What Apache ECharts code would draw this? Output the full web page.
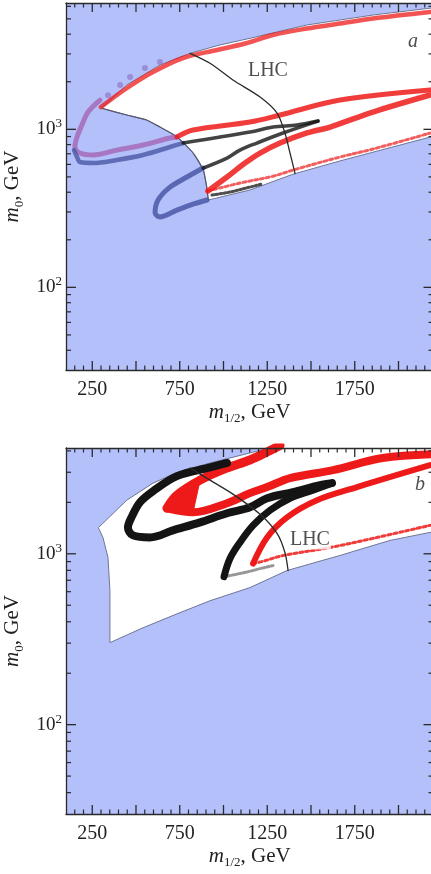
<!DOCTYPE html>
<html><head><meta charset="utf-8">
<script src="https://cdn.jsdelivr.net/npm/echarts@6/dist/echarts.min.js"></script>
<style>html,body{margin:0;padding:0;background:#fff}#c{width:431px;height:874px}</style>
</head><body><div id="c"></div><script>
// ---------- axes / ticks ----------
const X_MIN = 100, X_MAX = 2200;
const Y_MIN = 30, Y_MAX_A = 6300, Y_MAX_B = 4160;
const xMajorTicks = [250,500,750,1000,1250,1500,1750,2000];
const xTickLabels = [250,750,1250,1750];
const xMinorTicks = [150,200,300,350,400,450,550,600,650,700,800,850,900,950,1050,1100,1150,1200,1300,1350,1400,1450,1550,1600,1650,1700,1800,1850,1900,1950,2050,2100,2150];
const yMajorTicks = [100,1000];
const yMinorTicks = [40,50,60,70,80,90,200,300,400,500,600,700,800,900,2000,3000,4000,5000,6000];

// ---------- panel a ----------
const regionA = [[304,1359],[447,1906],[637,2552],[809,3027],[980,3421],[1151,3766],[1475,4571],[1854,5286],[2200,5880],[2200,900],[2180,893],[1666,631],[1397,520],[1151,413],[913,357],[904,433],[885,552],[827,708],[733,898],[637,1034],[561,1145],[447,1232],[304,1359]];
const edgeA = [[913,357],[904,433],[885,552],[827,708],[733,898],[637,1034],[561,1145],[447,1232],[304,1359]];
const lhcA = [[809,3027],[923,2617],[1054,2051],[1209,1600],[1306,1268],[1351,948],[1380,708],[1409,525]];
const redTopA = [[300,1384],[449,1826],[597,2305],[769,2827],[963,3177],[1123,3491],[1283,3953],[1477,4345],[1666,4674],[1854,5027],[2180,5526]];
const purpleA = [[294,1532],[226,1287],[191,1065],[163,893],[151,773],[180,708],[254,688],[391,739],[540,796],[694,881],[734,895]];
const purpleDotsA = [[637,2667],[551,2443],[466,2143],[409,1906],[340,1640]];
const redUpperArmA = [[734,895],[826,990],[1151,1112],[1323,1232],[1666,1532],[2180,1773]];
const redLowerArmA = [[2180,1649],[1854,1287],[1609,1034],[1477,948],[1323,819],[1209,708],[1123,612],[1020,499],[911,407]];
const redDotsA = [[911,407],[1094,457],[1283,505],[1397,552],[1666,668],[1854,750],[2180,946]];
const blueA = [[146,738],[163,668],[180,621],[254,612],[391,640],[540,688],[694,773],[769,819]];
const blackUpperArmA = [[769,819],[1151,961],[1283,1034],[1420,1065],[1540,1128]];
const blackLowerArmA = [[1540,1128],[1340,948],[1191,819],[1094,739],[1020,658],[883,569]];
const blueHookA = [[883,569],[791,499],[694,431],[626,357],[609,295],[637,279],[734,308],[826,336],[906,357]];
const blackDotsA = [[934,384],[1037,401],[1151,431],[1220,451]];
const notesA = [['LHC',1254,2340,'normal'],['a',2083,3573,'italic']];

// ---------- panel b ----------
const regionB = [[285,1422],[447,2058],[597,2591],[740,3006],[923,3398],[1151,3892],[1266,4160],[1723,5310],[2200,6600],[2200,1345],[2180,1334],[1951,1197],[1666,978],[1363,798],[1151,634],[923,531],[734,445],[540,369],[351,302],[351,608],[340,951],[311,1247],[285,1422]];
const lhcB = [[809,3177],[923,2698],[1054,2234],[1209,1702],[1306,1317],[1351,1018],[1369,798]];
const blackLoopB = [[1020,3400],[923,3200],[734,2849],[597,2325],[523,2004],[477,1656],[454,1426],[483,1281],[580,1247],[711,1371],[866,1528],[1020,1726],[1151,1871],[1249,2113],[1397,2294],[1551,2523],[1620,2592]];
const blackArmB = [[1620,2592],[1511,2357],[1380,2113],[1266,1797],[1169,1467],[1094,1166],[1037,938],[1003,735]];
const grayDotsB = [[1003,735],[1077,760],[1151,790],[1209,819],[1283,853]];
const redArmB = [[1169,877],[1249,1247],[1363,1635],[1534,2058],[1763,2456],[2180,3300]];
const redDotsB = [[1169,877],[1220,900],[1340,977],[1609,1088],[1854,1231],[2180,1467]];
const redWedgeUpperB = [[677,1847],[734,2203],[866,2698],[1020,3177],[1151,3540],[1249,3943],[1323,4300]];
const redWedgeLowerB = [[677,1847],[826,1750],[1020,1977],[1151,2265],[1249,2456],[1380,2773],[1626,3090],[1909,3636],[2200,3830]];
const notesB = [['LHC',1494,1214,'normal'],['b',2123,2523,'italic']];

// ---------- styling ----------
const FONT = 'Liberation Serif';
const BG = '#b4c0fa';
const AX = '#2a2a2a';
const L = Math.log10;

const nameRich = {
  i:{fontFamily:FONT, fontStyle:'italic', fontSize:21, lineHeight:26, color:'#222'},
  s:{fontFamily:FONT, fontSize:13, lineHeight:13, verticalAlign:'bottom', color:'#222'},
  t:{fontFamily:FONT, fontSize:21, lineHeight:26, color:'#222'}};
const axLine = {show:true, onZero:false, lineStyle:{color:AX, width:1.3}};

function xAxes(g) {
  const base = {gridIndex:g, type:'value', min:X_MIN, max:X_MAX, splitLine:{show:false}, axisTick:{show:false}, z:20};
  return [
    Object.assign({}, base, {position:'bottom', axisLine:axLine,
      axisLabel:{show:true, customValues:xTickLabels, margin:10, formatter:v=>String(v), fontFamily:FONT, fontSize:20, color:'#222'},
      name:'{i|m}{s|1/2}{t|, GeV}', nameLocation:'middle', nameGap:29,
      nameTextStyle:{fontFamily:FONT, color:'#222', rich:nameRich}}),
    Object.assign({}, base, {position:'top', axisLine:axLine, axisLabel:{show:false}})
  ];
}
function yAxes(g, ymax) {
  const base = {gridIndex:g, type:'value', min:L(Y_MIN), max:L(ymax), splitLine:{show:false}, axisTick:{show:false}, z:20};
  return [
    {gridIndex:g, type:'log', min:Y_MIN, max:ymax, show:false},
    Object.assign({}, base, {position:'left', axisLine:axLine,
      axisLabel:{show:true, customValues:yMajorTicks.map(L), margin:4, formatter:v=>'{m|10}{s|'+Math.round(v)+'}',
        rich:{m:{fontFamily:FONT, fontSize:19, lineHeight:24, color:'#222'}, s:{fontFamily:FONT, fontSize:13, lineHeight:13, verticalAlign:'top', color:'#222'}}},
      name:'{i|m}{s|0}{t|, GeV}', nameLocation:'middle', nameGap:37,
      nameTextStyle:{fontFamily:FONT, color:'#222', rich:nameRich}}),
    Object.assign({}, base, {position:'right', axisLine:axLine, axisLabel:{show:false}})
  ];
}

// tick marks: thin rectangles placed at tick values on the panel's axes, shifted inward
function tickMarks(p, data, size, offset) {
  return {type:'scatter', xAxisIndex:2*p, yAxisIndex:3*p, data:data, symbol:'rect',
    symbolSize:size, symbolOffset:offset, silent:true, clip:false, z:6,
    itemStyle:{color:AX, opacity:1}};
}
function ticks(p, ymax) {
  const ym = yMinorTicks.filter(v => v < ymax);
  return [
    tickMarks(p, xMajorTicks.map(v => [v, Y_MIN]), [1.3, 9], [0, -4.5]),
    tickMarks(p, xMinorTicks.map(v => [v, Y_MIN]), [1.2, 4.5], [0, -2.25]),
    tickMarks(p, xMajorTicks.map(v => [v, ymax]), [1.3, 9], [0, 4.5]),
    tickMarks(p, xMinorTicks.map(v => [v, ymax]), [1.2, 4.5], [0, 2.25]),
    tickMarks(p, yMajorTicks.map(v => [X_MIN, v]), [10, 1.3], [5, 0]),
    tickMarks(p, ym.map(v => [X_MIN, v]), [5, 1.2], [2.5, 0]),
    tickMarks(p, yMajorTicks.map(v => [X_MAX, v]), [10, 1.3], [-5, 0]),
    tickMarks(p, ym.map(v => [X_MAX, v]), [5, 1.2], [-2.5, 0])
  ];
}

function region(p, pts, fill, stroke, z) {
  return {type:'custom', xAxisIndex:2*p, yAxisIndex:3*p, clip:true, silent:true, z:z||1,
    data:[pts[0]],
    renderItem:(params, api) => ({type:'polygon', shape:{points:pts.map(q => api.coord(q))},
      style:{fill:fill, stroke:stroke, lineWidth:1}})};
}
function band(p, data, color, width, opacity, dash, z, smooth) {
  return {type:'line', xAxisIndex:2*p, yAxisIndex:3*p, data:data, smooth:smooth===undefined?0.35:smooth,
    symbol:'none', silent:true, clip:true, z:z||3,
    lineStyle:{color:color, width:width, opacity:opacity, type:dash||'solid', cap:'round', join:'round'}};
}
function dots(p, data, color, size, opacity) {
  return {type:'scatter', xAxisIndex:2*p, yAxisIndex:3*p, data:data, symbolSize:size, silent:true, z:3,
    itemStyle:{color:color, opacity:opacity}};
}
function notes(p, list, bg) {
  return {type:'scatter', xAxisIndex:2*p, yAxisIndex:3*p, symbolSize:1, silent:true, z:10,
    itemStyle:{color:'rgba(0,0,0,0)'},
    data:list.map(n => ({name:n[0], value:[n[1], n[2]],
      label:{show:true, position:'inside', formatter:'{b}', fontFamily:FONT, fontSize:20, color:'#222', fontStyle:n[3],
        backgroundColor:bg && n[0]==='LHC' ? '#fff' : 'transparent', padding:[0,1]}}))};
}

const RED = '#ee1a1a', BLK = '#141414', BLUE = '#4a57a6', PUR = '#a45fb0';
// red wedge fill in panel b: the area between the two wedge arms near its tip
const wedgeFillB = redWedgeUpperB.slice(0, 3).concat(redWedgeLowerB.slice(0, 2).reverse());

const series = [
  // panel a
  region(0, regionA, '#ffffff', '#6f7595'),
  band(0, edgeA, '#555a70', 1.2, 1, 'solid', 2, 0.2),
  dots(0, purpleDotsA, '#8a6ac0', 6, 0.6),
  band(0, purpleA, PUR, 5, 0.75),
  band(0, blueA, BLUE, 4.5, 0.8),
  band(0, blueHookA, BLUE, 5, 0.85, 'solid', 3, 0.3),
  band(0, redTopA, RED, 4.5, 0.75),
  band(0, redUpperArmA, RED, 5, 0.85),
  band(0, redLowerArmA, RED, 5.5, 0.85),
  band(0, redDotsA, RED, 3, 0.7, [3,3]),
  band(0, blackUpperArmA, BLK, 3.5, 0.8),
  band(0, blackLowerArmA, BLK, 3.5, 0.8),
  band(0, blackDotsA, BLK, 3, 0.75, [2,2]),
  band(0, lhcA, '#2a2a2a', 1.3, 1, 'solid', 5, 0.3),
  notes(0, notesA, false),
  // panel b
  region(1, regionB, '#ffffff', '#6f7595'),
  region(1, wedgeFillB, RED, RED, 2),
  band(1, redWedgeUpperB, RED, 9, 1),
  band(1, redWedgeLowerB, RED, 8, 1),
  band(1, redArmB, RED, 6, 1),
  band(1, redDotsB, RED, 3, 0.85, [3,3]),
  band(1, blackLoopB, BLK, 8, 1, 'solid', 4),
  band(1, blackArmB, BLK, 7, 1, 'solid', 4),
  band(1, grayDotsB, '#8c8c8c', 3, 0.9, [2,2]),
  band(1, lhcB, '#2a2a2a', 1.3, 1, 'solid', 5, 0.3),
  notes(1, notesB, true)
].concat(ticks(0, Y_MAX_A), ticks(1, Y_MAX_B));

const chart = echarts.init(document.getElementById('c'), null, {renderer:'canvas'});
chart.setOption({
  animation:false,
  grid:[
    {left:66, top:3, width:367.5, height:367, show:true, backgroundColor:BG, borderWidth:0, containLabel:false, outerBoundsMode:'none'},
    {left:66, top:448, width:367.5, height:366, show:true, backgroundColor:BG, borderWidth:0, containLabel:false, outerBoundsMode:'none'}
  ],
  xAxis: xAxes(0).concat(xAxes(1)),
  yAxis: yAxes(0, Y_MAX_A).concat(yAxes(1, Y_MAX_B)),
  series: series
});
</script></body></html>
